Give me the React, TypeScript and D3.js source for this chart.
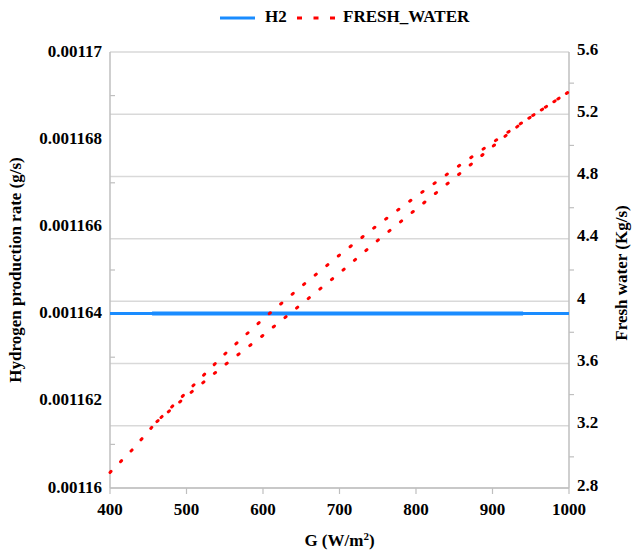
import React from "react";
import * as d3 from "d3";

// Forward sweep (G ascending)
const gForward = [400, 430, 460, 500, 550, 600, 650, 700, 750, 800, 850, 900, 950, 1000];
const fwForward = [2.9, 3.05, 3.22, 3.415, 3.66, 3.885, 4.094, 4.296, 4.489, 4.672, 4.848, 5.018, 5.184, 5.345];
const h2Forward = [0.001164, 0.001164, 0.001164, 0.001164, 0.001164, 0.001164, 0.001164, 0.001164, 0.001164, 0.001164, 0.001164, 0.001164, 0.001164, 0.001164];

// Return sweep (G descending)
const gBack = [940, 920, 850, 800, 750, 700, 650, 600, 550, 500, 455];
const fwBack = [5.15, 5.073, 4.79, 4.59, 4.39, 4.18, 3.98, 3.78, 3.59, 3.39, 3.2];
const h2Back = [0.001164, 0.001164, 0.001164, 0.001164, 0.001164, 0.001164, 0.001164, 0.001164, 0.001164, 0.001164, 0.001164];

const xTicks = [400, 500, 600, 700, 800, 900, 1000];
const leftTicks = [0.00116, 0.001162, 0.001164, 0.001166, 0.001168, 0.00117];
const leftTickLabels = ["0.00116", "0.001162", "0.001164", "0.001166", "0.001168", "0.00117"];
const leftMinor = [0.001161, 0.001163, 0.001165, 0.001167, 0.001169];
const rightTicks = [2.8, 3.2, 3.6, 4.0, 4.4, 4.8, 5.2, 5.6];
const rightTickLabels = ["2.8", "3.2", "3.6", "4", "4.4", "4.8", "5.2", "5.6"];
const rightMinor = [3.0, 3.4, 3.8, 4.2, 4.6, 5.0, 5.4];

const W = 632;
const H = 554;
const L = 110, R = 569, T = 52, B = 488;
const FONT = "'Liberation Serif', 'Times New Roman', serif";
const AXIS = "#bfbfbf";
const GRID = "#d9d9d9";
const BLUE = "#1a8cff";
const RED = "#ff0000";

export default function App() {
  const x = d3.scaleLinear().domain([400, 1000]).range([L, R]);
  const yL = d3.scaleLinear().domain([0.00116, 0.00117]).range([B, T]);
  const yR = d3.scaleLinear().domain([2.8, 5.6]).range([B, T]);

  const fwdFW = gForward.map((g, i) => [g, fwForward[i]] as [number, number]);
  const backFW = gBack.map((g, i) => [g, fwBack[i]] as [number, number]);
  const fwdH2 = gForward.map((g, i) => [g, h2Forward[i]] as [number, number]);
  const backH2 = gBack.map((g, i) => [g, h2Back[i]] as [number, number]);

  const lineR = d3.line<[number, number]>().x((d) => x(d[0])).y((d) => yR(d[1]));
  const lineL = d3.line<[number, number]>().x((d) => x(d[0])).y((d) => yL(d[1]));

  const fwPath = lineR([...fwdFW, ...backFW]) || "";

  return (
    <svg width={W} height={H} style={{ position: "absolute", left: 0, top: 0, background: "#fff" }}>
      {/* gridlines */}
      {rightTicks.map((t) => (
        <line key={"g" + t} x1={L} x2={R} y1={yR(t)} y2={yR(t)} stroke={GRID} strokeWidth={1.5} />
      ))}
      {/* axes */}
      <line x1={L} x2={L} y1={T} y2={B} stroke={AXIS} strokeWidth={1.5} />
      <line x1={R} x2={R} y1={T} y2={B} stroke={AXIS} strokeWidth={1.5} />
      <line x1={L} x2={R} y1={B} y2={B} stroke={AXIS} strokeWidth={1.5} />
      {xTicks.map((t) => (
        <line key={"xt" + t} x1={x(t)} x2={x(t)} y1={B} y2={B + 6} stroke={AXIS} strokeWidth={1.2} />
      ))}
      {leftMinor.map((t) => (
        <line key={"lm" + t} x1={L} x2={L + 5} y1={yL(t)} y2={yL(t)} stroke={AXIS} strokeWidth={1.2} />
      ))}
      {rightMinor.map((t) => (
        <line key={"rm" + t} x1={R} x2={R + 5} y1={yR(t)} y2={yR(t)} stroke={AXIS} strokeWidth={1.2} />
      ))}

      {/* H2 series */}
      <path d={lineL(fwdH2) || ""} fill="none" stroke={BLUE} strokeWidth={3} />
      <path d={lineL(backH2) || ""} fill="none" stroke={BLUE} strokeWidth={4} />

      {/* Fresh water series */}
      <path d={fwPath} fill="none" stroke={RED} strokeWidth={3} strokeDasharray="1.5 13.5" strokeLinecap="round" />

      {/* tick labels */}
      <g fontFamily={FONT} fontWeight="bold" fontSize={17} fill="#000">
        {xTicks.map((t) => (
          <text key={"xl" + t} x={x(t)} y={515} textAnchor="middle">{t}</text>
        ))}
        {leftTicks.map((t, i) => (
          <text key={"ll" + t} x={102} y={yL(t) - 1} textAnchor="end" dominantBaseline="central">{leftTickLabels[i]}</text>
        ))}
        {rightTicks.map((t, i) => (
          <text key={"rl" + t} x={577} y={yR(t) - 3} textAnchor="start" dominantBaseline="central">{rightTickLabels[i]}</text>
        ))}
        {/* axis titles */}
        <text x={(L + R) / 2} y={546} textAnchor="middle">
          G (W/m<tspan dy={-6} fontSize={11}>2</tspan><tspan dy={6}>)</tspan>
        </text>
        <text transform={`translate(21, ${(T + B) / 2}) rotate(-90)`} textAnchor="middle">Hydrogen production rate (g/s)</text>
        <text transform={`translate(627, ${(T + B) / 2 + 3}) rotate(-90)`} textAnchor="middle">Fresh water (Kg/s)</text>
        {/* legend */}
        <line x1={220} x2={255} y1={18} y2={18} stroke={BLUE} strokeWidth={3} />
        <text x={265} y={22}>H2</text>
        <line x1={297} x2={335} y1={18} y2={18} stroke={RED} strokeWidth={3} strokeDasharray="5 11.5" />
        <text x={343} y={22}>FRESH_WATER</text>
      </g>
    </svg>
  );
}
